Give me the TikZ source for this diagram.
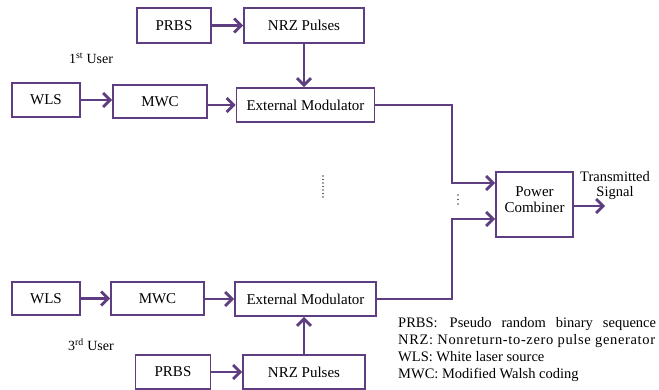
\documentclass[tikz,border=0pt]{standalone}
\usepackage{fontspec}
\setmainfont{Liberation Serif}
\usepackage{xcolor}
\usetikzlibrary{arrows.meta,calc}

\definecolor{linepurple}{RGB}{94,62,128}
\definecolor{dotgray}{RGB}{70,70,80}

\begin{document}
\begin{tikzpicture}[x=1pt, y=-1pt, >={Straight Barb[length=7pt,width=14pt]},
  blockbox/.style={draw=linepurple, line width=1.9pt, inner sep=0pt,
    font=\fontsize{15}{17}\selectfont},
  link/.style={draw=linepurple, line width=2.7pt},
  usertext/.style={font=\fontsize{14}{16}\selectfont},
  legendtext/.style={anchor=base west, inner sep=0pt, font=\fontsize{14.5}{16}\selectfont}]
\useasboundingbox (0,0) rectangle (659,390);

% 1st user
\node[blockbox, minimum width=74pt, minimum height=35pt] (prbsA) at (174,25.5) {PRBS};
\node[blockbox, minimum width=120pt, minimum height=35pt] (nrzA) at (304,25.5) {NRZ Pulses};
\node[blockbox, minimum width=68pt, minimum height=34pt] (wlsA) at (46,100) {WLS};
\node[blockbox, minimum width=94pt, minimum height=33pt] (mwcA) at (160,101.5) {MWC};
\node[blockbox, minimum width=138pt, minimum height=34pt] (emA) at (305.5,105) {External Modulator};
\node[usertext] (userA) at (91,58) {1\textsuperscript{st} User};

% 3rd user
\node[blockbox, minimum width=68pt, minimum height=33pt] (wlsB) at (46,298.5) {WLS};
\node[blockbox, minimum width=93pt, minimum height=33pt] (mwcB) at (157.5,298.5) {MWC};
\node[blockbox, minimum width=141pt, minimum height=34pt] (emB) at (305.5,299) {External Modulator};
\node[blockbox, minimum width=75pt, minimum height=34pt] (prbsB) at (173,372) {PRBS};
\node[blockbox, minimum width=122pt, minimum height=34pt] (nrzB) at (304,372) {NRZ Pulses};
\node[usertext] (userB) at (91,345) {3\textsuperscript{rd} User};

% combiner
\node[blockbox, minimum width=77pt, minimum height=65pt, align=center,
  font=\fontsize{15}{16}\selectfont] (pc) at (534.5,204.5) {Power\\Combiner\\[-6pt]};
\node[align=center, inner sep=0pt, font=\fontsize{14.5}{15}\selectfont] (txLabel) at (615,186) {Transmitted\\Signal};

\coordinate (jA) at (452,183);
\coordinate (jB) at (452,219);
\coordinate (txEnd) at (605,206);

% connectors
\draw[link, ->] (prbsA.east) -- (prbsA.east -| nrzA.west);
\draw[link, ->] (nrzA.south) -- (nrzA.south |- emA.north);
\draw[link, ->] (wlsA.east) -- (wlsA.east -| mwcA.west);
\draw[link, ->] (mwcA.east |- emA.west) -- (emA.west);
\draw[link, ->] (emA.east) -| (jA) -- (jA -| pc.west);

\draw[link, ->] (wlsB.east) -- (wlsB.east -| mwcB.west);
\draw[link, ->] (mwcB.east |- emB.west) -- (emB.west);
\draw[link, ->] (prbsB.east |- nrzB.west) -- (nrzB.west);
\draw[link, ->] (nrzB.north) -- (nrzB.north |- emB.south);
\draw[link, ->] (emB.east) -| (jB) -- (jB -| pc.west);

\draw[link, ->] (pc.east |- txEnd) -- (txEnd);

% dots
\foreach \k in {0,...,6}
  \fill[dotgray] (323,176+3.5*\k) circle (0.9);
\foreach \k in {0,1,2}
  \fill[dotgray] (458,195+4.5*\k) circle (0.9);

% legend
\node[legendtext] (lgPrbs) at (398,327) {PRBS:\hspace{12pt}Pseudo\hspace{10pt}random\hspace{10pt}binary\hspace{10pt}sequence};
\node[legendtext] (lgNrz) at (398,344) {\addfontfeature{LetterSpace=4.5}NRZ: Nonreturn-to-zero pulse generator};
\node[legendtext] (lgWls) at (398,361) {WLS: White laser source};
\node[legendtext] (lgMwc) at (398,378) {MWC: Modified Walsh coding};
\end{tikzpicture}
\end{document}
